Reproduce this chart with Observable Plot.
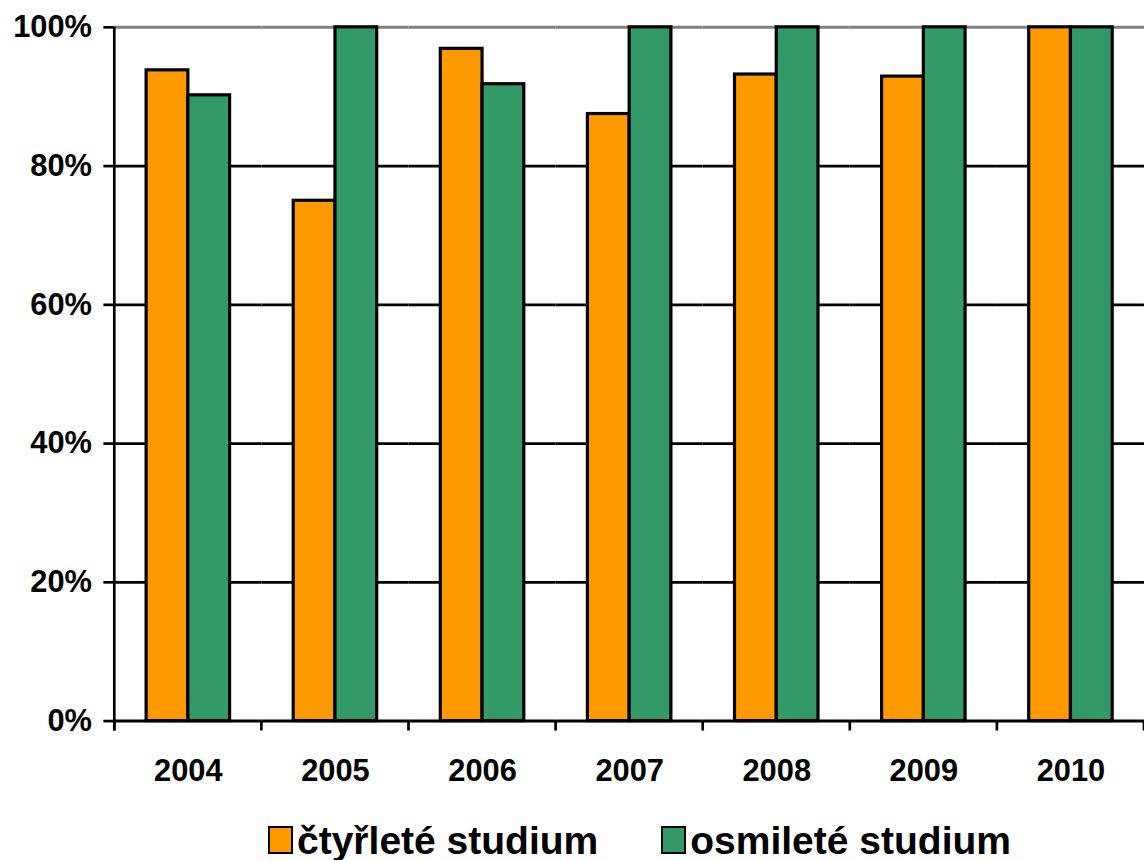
<!DOCTYPE html>
<html>
<head>
<meta charset="utf-8">
<script src="https://cdn.jsdelivr.net/npm/d3@7"></script>
<script src="https://cdn.jsdelivr.net/npm/@observablehq/plot@0.6"></script>
<style>
  html, body { margin: 0; padding: 0; background: #fff; overflow: hidden; }
  body { font-family: "Liberation Sans", Arial, sans-serif; }
  #chart svg { display: block; }
  #legend {
    display: flex; align-items: baseline; gap: 63px;
    margin-left: 268px; padding-top: 26px;
    font-family: "Liberation Sans", Arial, sans-serif;
    font-weight: bold; font-size: 39px; line-height: 39px; color: #000;
  }
  .item { display: flex; align-items: baseline; }
  .sw { display: inline-block; width: 21px; height: 24px; border: 2.5px solid #000; margin-right: 4px; }
</style>
</head>
<body>
<div id="chart"></div>
<div id="legend"></div>
<script>
// ---- data ----
const years = ["2004", "2005", "2006", "2007", "2008", "2009", "2010"];
const seriesNames = ["čtyřleté studium", "osmileté studium"];
const ctyrlete = [93.8, 75.0, 96.9, 87.5, 93.2, 92.9, 100];
const osmilete = [90.2, 100, 91.8, 100, 100, 100, 100];
const colors = ["#FF9900", "#339966"];
const yTicks = [0, 20, 40, 60, 80, 100];
const gridTicks = [20, 40, 60, 80];
const topLine = [100];
const baseLine = [0];

const data = years.flatMap((yr, i) => [
  { year: yr, series: seriesNames[0], value: ctyrlete[i] },
  { year: yr, series: seriesNames[1], value: osmilete[i] }
]);

const chart = Plot.plot({
  width: 1151,
  height: 800,
  marginLeft: 114,
  marginRight: 0,
  marginTop: 27,
  marginBottom: 75,
  style: {
    fontFamily: "'Liberation Sans', Arial, sans-serif",
    fontSize: "31px",
    fontWeight: "bold",
    color: "#000",
    background: "#fff",
    overflow: "visible"
  },
  fx: { domain: years, padding: 0, label: null, axis: "bottom", tickSize: 0, tickPadding: 38 },
  x: { domain: seriesNames, paddingInner: 0, paddingOuter: 0.75, axis: null },
  y: { domain: [0, 100], ticks: yTicks, tickFormat: d => d + "%", label: null, tickSize: 11, tickPadding: 12 },
  color: { domain: seriesNames, range: colors },
  marks: [
    Plot.ruleY(gridTicks, { stroke: "#000", strokeWidth: 2.7 }),
    Plot.ruleY(topLine, { stroke: "#808080", strokeWidth: 3 }),
    Plot.barY(data, { fx: "year", x: "series", y: "value", fill: "series", stroke: "#000", strokeWidth: 3.2 }),
    Plot.ruleY(baseLine, { stroke: "#000", strokeWidth: 3 })
  ]
});

// y axis tick strokes thicker
d3.select(chart).selectAll("[aria-label='y-axis tick'] path, [aria-label='y-axis tick']")
  .attr("stroke-width", 2.7);

// axis line and category boundary ticks from the library's scales
const fx = chart.scale("fx");
const ys = chart.scale("y");
const edges = years.map(v => fx.apply(v)).concat([fx.apply(years[years.length - 1]) + fx.bandwidth]);
const g = d3.select(chart).append("g").attr("stroke", "#000").attr("stroke-width", 2.7);
g.append("line")
  .attr("x1", edges[0]).attr("x2", edges[0])
  .attr("y1", ys.apply(100)).attr("y2", ys.apply(0) + 10);
edges.forEach(e => {
  g.append("line").attr("x1", e).attr("x2", e)
    .attr("y1", ys.apply(0)).attr("y2", ys.apply(0) + 10);
});

document.getElementById("chart").appendChild(chart);

// legend
const legend = d3.select("#legend");
seriesNames.forEach((name, i) => {
  const it = legend.append("div").attr("class", "item");
  it.append("span").attr("class", "sw").style("background", colors[i]);
  it.append("span").text(name);
});
</script>
</body>
</html>
